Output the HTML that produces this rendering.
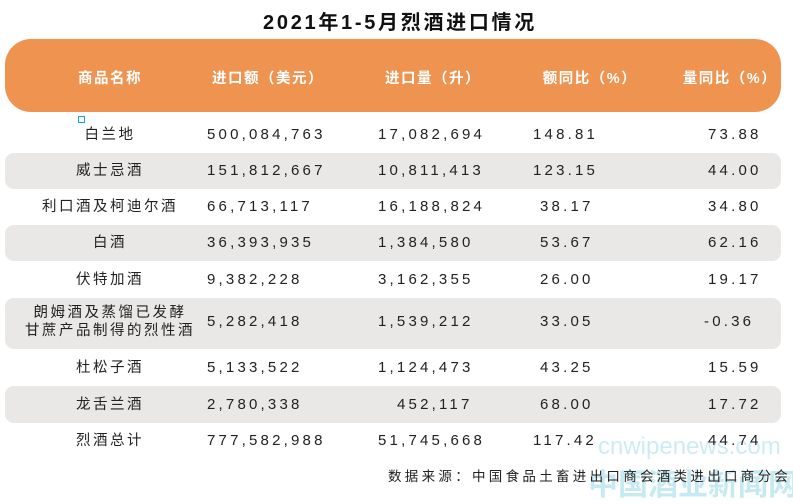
<!DOCTYPE html>
<html><head><meta charset="utf-8"><style>
body{margin:0;width:793px;height:497px;background:#fff;position:relative;overflow:hidden;font-family:"Liberation Sans","Noto Sans CJK SC",sans-serif;color:#222}
.a{position:absolute;white-space:nowrap}
.title{left:0;width:800px;text-align:center;top:6px;font-size:20px;font-weight:bold;letter-spacing:2.7px;color:#111}
.hdr{left:5px;top:39px;width:776px;height:73px;background:#EE9450;border-radius:26px}
.h{top:67px;font-size:14.5px;font-weight:bold;color:#fff;letter-spacing:1.5px;transform:translateX(-50%)}
.band{left:5px;width:776px;background:#EAE8E6;border-radius:9px}
.n{font-size:14.5px;letter-spacing:2.5px;transform:translateX(-50%);text-align:center;line-height:18px}
.d{font-size:15px;letter-spacing:3.2px}
.src{top:465px;left:388px;font-size:13.5px;letter-spacing:3.3px;color:#222}
.wm1{left:598px;top:433px;font-size:24px;color:#8fd6e6;opacity:.45}
.wm2{left:588px;top:460px;font-size:30px;color:#6fcbe0;opacity:.4;font-weight:bold}
</style></head><body>
<div class="a title">2021年1-5月烈酒进口情况</div>
<div class="a hdr"></div>
<div class="a h" style="left:110px">商品名称</div>
<div class="a h" style="left:268px">进口额（美元）</div>
<div class="a h" style="left:433px">进口量（升）</div>
<div class="a h" style="left:590px">额同比（%）</div>
<div class="a h" style="left:730px">量同比（%）</div>
<div class="a" style="left:78px;top:116px;width:5px;height:5px;border:1px solid #1aa0e0"></div>
<div class="a band" style="top:153px;height:36px"></div>
<div class="a band" style="top:225px;height:36px"></div>
<div class="a band" style="top:298px;height:51px"></div>
<div class="a band" style="top:386px;height:37px"></div>
<div class="a wm1">cnwipenews.com</div>
<div class="a wm2">中国酒业新闻网</div>
<div id="rows"></div>
<div class="a src">数据来源：中国食品土畜进出口商会酒类进出口商分会</div>
<script>
const names=["白兰地","威士忌酒","利口酒及柯迪尔酒","白酒","伏特加酒","朗姆酒及蒸馏已发酵<br>甘蔗产品制得的烈性酒","杜松子酒","龙舌兰酒","烈酒总计"];
const amounts=["500,084,763","151,812,667","66,713,117","36,393,935","9,382,228","5,282,418","5,133,522","2,780,338","777,582,988"];
const volumes=["17,082,694","10,811,413","16,188,824","1,384,580","3,162,355","1,539,212","1,124,473","452,117","51,745,668"];
const amtYoy=["148.81","123.15","38.17","53.67","26.00","33.05","43.25","68.00","117.42"];
const volYoy=["73.88","44.00","34.80","62.16","19.17","-0.36","15.59","17.72","44.74"];
const ys=[135,171,207,243,280,322,368,405,441];
const c=document.getElementById('rows');
function mk(cls,html,x,y,name){const e=document.createElement('div');e.className='a '+cls;e.innerHTML=html;e.style.left=x+'px';e.style.top=y+'px';


c.appendChild(e);}
names.forEach((n,i)=>{const y=ys[i];const two=n.includes('<br>');
mk('n',n,110,y-(two?18:9),'product-name');
mk('d',amounts[i],207,y-9,'import-amount');
mk('d',volumes[i],volumes[i].length<9?397:378,y-9,'import-volume');
mk('d',amtYoy[i],amtYoy[i].length>5?533:540,y-9,'amount-yoy');
mk('d',volYoy[i],volYoy[i][0]=='-'?704:708,y-9,'volume-yoy');});
</script>
</body></html>
